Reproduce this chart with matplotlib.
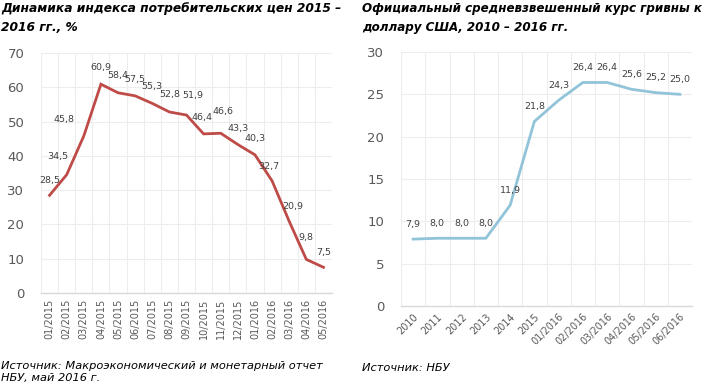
import matplotlib
matplotlib.use("Agg")
import matplotlib.pyplot as plt
import numpy as np

plt.rcParams['font.family'] = ['DejaVu Sans']

# ---- data ----
cpi_labels = ["01/2015", "02/2015", "03/2015", "04/2015", "05/2015", "06/2015",
              "07/2015", "08/2015", "09/2015", "10/2015", "11/2015", "12/2015",
              "01/2016", "02/2016", "03/2016", "04/2016", "05/2016"]
cpi_values = [28.5, 34.5, 45.8, 60.9, 58.4, 57.5, 55.3, 52.8, 51.9, 46.4, 46.6,
              43.3, 40.3, 32.7, 20.9, 9.8, 7.5]

fx_labels = ["2010", "2011", "2012", "2013", "2014", "2015", "01/2016", "02/2016",
             "03/2016", "04/2016", "05/2016", "06/2016"]
fx_values = [7.9, 8.0, 8.0, 8.0, 11.9, 21.8, 24.3, 26.4, 26.4, 25.6, 25.2, 25.0]

cpi_ticks = [0, 10, 20, 30, 40, 50, 60, 70]
fx_ticks = [0, 5, 10, 15, 20, 25, 30]

# label offsets (pixels) for the CPI chart labels
cpi_label_dx = [0, -9, -20, 0, 0, 0, 0, 0, 6, -2, 2, 0, 0, -3, 4, 0, 0]
cpi_label_dy = [15, 18, 16, 17, 17, 16, 17, 17, 20, 16, 22, 16, 16, 14, 15, 22, 15]

W, H = 714, 392
fig = plt.figure(figsize=(W / 100, H / 100), dpi=100)

GRID = "#EDEDED"
AXIS = "#D9D9D9"
TICKC = "#595959"
LBLC = "#404040"


def fmt(v):
    return f"{v:.1f}".replace(".", ",")


def setup(ax, n, yticks):
    ax.set_xlim(-0.5, n - 0.5)
    ax.set_ylim(yticks[0], yticks[-1])
    ax.set_yticks(yticks)
    ax.set_xticks(np.arange(n))
    ax.set_xticks(np.arange(n + 1) - 0.5, minor=True)
    ax.grid(True, which="minor", axis="x", color=GRID, lw=0.8)
    ax.grid(True, which="major", axis="y", color=GRID, lw=0.8)
    ax.set_axisbelow(True)
    for s in ["top", "right", "left"]:
        ax.spines[s].set_visible(False)
    ax.spines["bottom"].set_color(AXIS)
    ax.spines["bottom"].set_linewidth(1.0)
    ax.tick_params(axis="both", which="both", length=0)
    ax.tick_params(axis="y", labelsize=9.5, labelcolor=TICKC, pad=12)
    ax.tick_params(axis="x", labelsize=7, labelcolor=TICKC, pad=4)


# left chart
ax1 = fig.add_axes([41 / W, 1 - 293 / H, 291 / W, 240 / H])
setup(ax1, len(cpi_values), cpi_ticks)
x1 = np.arange(len(cpi_values))
ax1.plot(x1, cpi_values, color="#BE4B48", lw=2.0, solid_joinstyle="miter")
ax1.set_xticklabels(cpi_labels, rotation=90)
for xi, v, dx, dy in zip(x1, cpi_values, cpi_label_dx, cpi_label_dy):
    ax1.annotate(fmt(v), (xi, v), xytext=(dx, dy), textcoords="offset pixels",
                 ha="center", va="center", fontsize=6.8, color=LBLC)

# right chart
ax2 = fig.add_axes([401 / W, 1 - 306 / H, 291 / W, 254 / H])
setup(ax2, len(fx_values), fx_ticks)
x2 = np.arange(len(fx_values))
ax2.plot(x2, fx_values, color="#92C4D9", lw=2.0)
ax2.set_xticklabels(fx_labels, rotation=45, ha="right", rotation_mode="anchor")
for xi, v in zip(x2, fx_values):
    ax2.annotate(fmt(v), (xi, v), xytext=(0, 15), textcoords="offset pixels",
                 ha="center", va="center", fontsize=6.8, color=LBLC)

# titles
tkw = dict(fontweight="bold", style="italic", color="black",
           ha="left", va="top", linespacing=1.6)
fig.text(1 / W, 1 - 2 / H, "Динамика индекса потребительских цен 2015 –\n2016 гг., %",
         fontsize=8.85, **tkw)
fig.text(362 / W, 1 - 2 / H, "Официальный средневзвешенный курс гривны к\nдоллару США, 2010 – 2016 гг.",
         fontsize=8.55, **tkw)

# sources
skw = dict(fontsize=8.2, style="italic", color="black", ha="left", va="top")
fig.text(1 / W, 1 - 361 / H, "Источник: Макроэкономический и монетарный отчет\nНБУ, май 2016 г.",
         linespacing=1.3, **skw)
fig.text(362 / W, 1 - 363 / H, "Источник: НБУ", **skw)

fig.savefig("out.png", dpi=100)
